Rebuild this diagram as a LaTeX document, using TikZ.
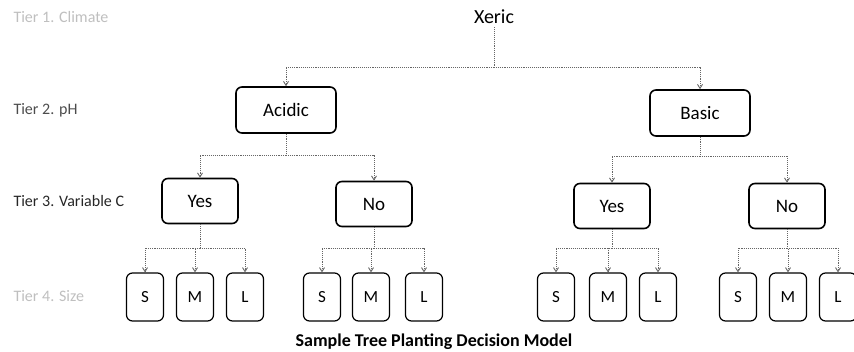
\documentclass[tikz,border=0pt]{standalone}
\usepackage{fontspec}
\setmainfont{Carlito}
\usetikzlibrary{positioning,arrows.meta}
\tikzset{
    x=1pt, y=-1pt,
    tier/.style={anchor=west, font=\fontsize{16}{18}\selectfont},
    phbox/.style={draw, rounded corners=6pt, line width=1.6pt, minimum width=100pt, minimum height=46pt, font=\fontsize{19}{21}\selectfont},
    varbox/.style={draw, rounded corners=6pt, line width=1.6pt, minimum width=76pt, minimum height=45pt, font=\fontsize{19}{21}\selectfont},
    sizebox/.style={draw, rounded corners=6pt, line width=1.2pt, minimum width=37pt, minimum height=48pt, font=\fontsize{17}{19}\selectfont},
    link/.style={draw=black!60, densely dotted, line width=0.9pt},
    linkto/.style={link, -{Straight Barb[length=4pt,width=5pt]}},
}
\begin{document}
\begin{tikzpicture}
\useasboundingbox (0,0) rectangle (854,352);
% tier labels
\node[tier, text=black!25] (t1) at (10,17) {Tier 1. Climate};
\node[tier, text=black!70] (t2) at (10,110) {Tier 2. pH};
\node[tier, text=black!85] (t3) at (10,201) {Tier 3. Variable C};
\node[tier, text=black!25] (t4) at (10,296) {Tier 4. Size};
% tier 1 and 2
\node[font=\fontsize{20}{22}\selectfont] (xeric) at (494,17) {Xeric};
\node[phbox] (acidic) at (286,110) {Acidic};
\node[phbox] (basic) at (700,113) {Basic};
% tier 3
\node[varbox] (ayes) at (200,201) {Yes};
\node[varbox] (ano) at (374,204) {No};
\node[varbox] (byes) at (612,206) {Yes};
\node[varbox] (bno) at (787,206) {No};
% tier 4
\coordinate (row4) at (0,248);
\foreach \g/\xs/\xm/\xl in {ayes/145/195/245, ano/322/371/424, byes/556/608/658, bno/738/788/838}{
    \node[sizebox] (\g-s) at (\xs,297) {S};
    \node[sizebox] (\g-m) at (\xm,297) {M};
    \node[sizebox] (\g-l) at (\xl,297) {L};
    \coordinate (\g-j) at (\g.south |- row4);
    \draw[link] (\g) -- (\g-j);
    \draw[linkto] (\g-j) -| (\g-s);
    \draw[linkto] (\g-j) -| (\g-m);
    \draw[linkto] (\g-j) -| (\g-l);
}
% connectors
\coordinate (xj) at (494,67);
\coordinate (aj) at (286,155);
\coordinate (bj) at (700,156);
\draw[link] (xeric) -- (xj);
\draw[linkto] (xj) -| (acidic);
\draw[linkto] (xj) -| (basic);
\draw[link] (acidic) -- (aj);
\draw[linkto] (aj) -| (ayes);
\draw[linkto] (aj) -| (ano);
\draw[link] (basic) -- (bj);
\draw[linkto] (bj) -| (byes);
\draw[linkto] (bj) -| (bno);
% caption
\node[font=\bfseries\fontsize{18}{20}\selectfont] (caption) at (434,342) {Sample Tree Planting Decision Model};
\end{tikzpicture}
\end{document}
